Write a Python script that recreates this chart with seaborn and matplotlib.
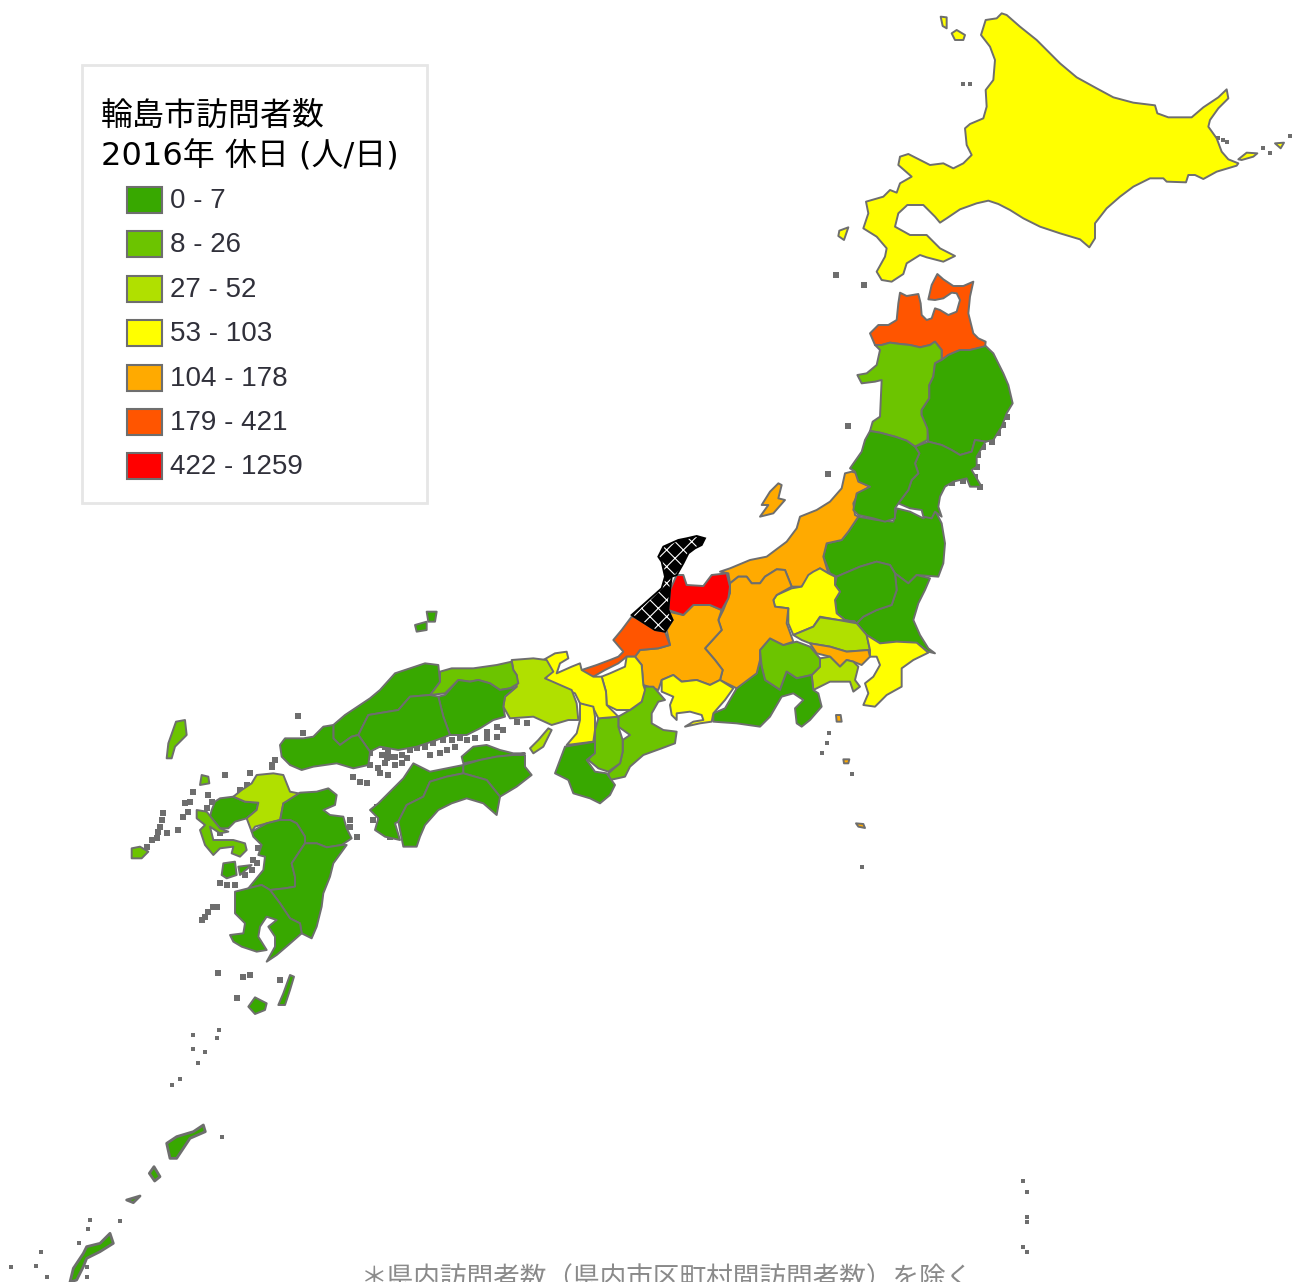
import matplotlib
matplotlib.use("Agg")
import matplotlib.pyplot as plt
from matplotlib.patches import Polygon, Rectangle
import seaborn as sns

# legend
title_lines = ["輪島市訪問者数", "2016年 休日 (人/日)"]
class_labels = ["0 - 7", "8 - 26", "27 - 52", "53 - 103", "104 - 178", "179 - 421", "422 - 1259"]
class_colors = ["#38a800", "#6cc400", "#b0e000", "#ffff00", "#ffaa00", "#ff5500", "#ff0000"]
footnote = "＊県内訪問者数（県内市区町村間訪問者数）を除く"

NORTH = (820, 0, 3, 3)
TOHOKU = (820, 270, 3, 3)
CHUBU = (530, 460, 3, 3)
WEST = (270, 640, 3, 3)
KYUSHU = (120, 760, 3, 3)
SOUTH = (0, 1020, 1.5, 3)

hokkaido = [(545,40),(560,45),(600,80),(650,120),(680,150),(720,190),(770,232),(830,265),(880,292),(940,308),(1005,316),(1012,340),(1045,352),(1115,352),(1150,322),(1195,292),(1220,268),(1225,295),(1195,325),(1170,360),(1165,380),(1190,415),(1205,455),(1225,478),(1255,490),(1250,497),(1190,515),(1150,537),(1125,525),(1105,525),(1098,547),(1040,545),(1030,535),(990,535),(940,560),(900,590),(860,625),(825,670),(825,715),(808,742),(780,718),(720,700),(660,680),(610,655),(570,630),(535,612),(505,602),(470,610),(420,628),(380,655),(360,668),(345,650),(310,615),(262,615),(235,640),(225,680),(270,705),(320,705),(360,745),(405,768),(370,785),(320,772),(300,765),(260,790),(250,822),(215,845),(185,840),(170,815),(195,770),(200,745),(170,710),(130,685),(145,640),(138,605),(190,590),(210,570),(230,578),(240,550),(275,530),(235,495),(240,470),(265,462),(330,495),(370,490),(400,505),(430,490),(455,465),(440,435),(435,385),(450,372),(490,355),(500,320),(497,270),(520,240),(525,180),(510,140),(483,105),(497,60),(530,55)]
rishiri = [(395,100),(410,90),(435,105),(430,120),(405,120)]
rebun = [(362,50),(380,52),(380,85),(368,78)]
okushiri = [(58,692),(85,682),(72,720),(55,708)]
habomai = [(1255,478),(1280,458),(1312,460),(1300,470),(1265,480)]
kunashiri = [(1365,430),(1392,428),(1382,445)]

aomori = [(240,68),(260,78),(295,72),(302,100),(305,135),(320,150),(335,145),(345,115),(360,120),(385,135),(410,125),(420,90),(410,70),(395,68),(370,85),(345,90),(325,88),(335,45),(352,12),(370,28),(400,48),(430,48),(460,35),(450,80),(445,130),(460,190),(475,205),(497,215),(495,232),(450,240),(420,240),(385,255),(365,270),(365,240),(345,215),(330,225),(300,232),(270,225),(240,222),(210,218),(185,225),(165,225),(150,190),(175,165),(205,165),(230,150),(235,100)]
akita = [(165,225),(185,225),(210,218),(240,222),(270,225),(300,232),(330,225),(345,215),(365,240),(365,268),(345,280),(340,320),(328,345),(328,385),(305,420),(305,435),(325,470),(322,510),(285,530),(260,512),(225,500),(180,488),(150,483),(158,455),(180,440),(185,330),(165,335),(125,340),(112,315),(140,310),(170,285),(180,240)]
iwate = [(365,270),(385,255),(420,240),(450,240),(497,228),(520,250),(535,280),(550,310),(565,345),(578,400),(560,430),(545,470),(520,510),(497,515),(465,510),(455,545),(420,555),(395,540),(365,525),(325,515),(322,475),(305,435),(305,420),(328,385),(328,345),(340,320),(345,280)]
miyagi = [(285,530),(325,515),(365,525),(395,540),(420,555),(455,545),(465,510),(497,515),(470,560),(470,590),(455,600),(485,650),(450,650),(440,625),(400,635),(375,650),(360,680),(355,710),(365,740),(345,725),(335,745),(310,740),(305,720),(270,715),(235,700),(265,660),(275,630),(295,610),(285,580),(298,550)]
yamagata = [(150,483),(180,488),(225,500),(260,512),(285,530),(298,550),(285,580),(295,610),(275,630),(265,660),(235,700),(225,715),(225,745),(195,755),(160,745),(115,735),(100,720),(110,670),(150,650),(115,635),(105,605),(90,595),(125,545),(135,510)]

niigata = [(965,35),(985,40),(990,65),(1020,80),(985,100),(970,130),(975,165),(985,170),(955,215),(935,240),(890,250),(880,290),(895,340),(870,325),(840,345),(815,380),(785,380),(765,330),(740,328),(705,350),(690,370),(665,370),(650,350),(625,350),(600,370),(595,340),(570,335),(600,325),(660,300),(710,290),(770,245),(800,205),(810,170),(860,150),(900,125),(935,85),(945,40)]
sado = [(745,70),(755,75),(745,115),(765,120),(730,160),(690,170),(715,135),(695,135),(720,95)]
fukushima = [(985,170),(1040,180),(1090,185),(1100,145),(1140,155),(1180,175),(1215,150),(1235,190),(1245,250),(1240,310),(1225,350),(1160,345),(1135,370),(1095,340),(1080,315),(1040,305),(990,320),(920,350),(900,340),(880,290),(890,250),(935,240),(955,215)]
tochigi = [(920,350),(990,320),(1040,305),(1080,315),(1095,340),(1100,390),(1085,435),(1040,450),(1000,470),(980,490),(945,480),(920,460),(915,420),(930,395),(915,375)]
ibaraki = [(1095,340),(1135,370),(1160,345),(1200,355),(1185,390),(1165,430),(1150,480),(1170,525),(1195,565),(1215,580),(1195,575),(1160,550),(1100,545),(1050,550),(1010,525),(980,490),(1000,470),(1040,450),(1085,435),(1100,390)]
gunma = [(850,335),(870,325),(895,340),(915,350),(915,375),(930,395),(915,420),(920,460),(945,480),(975,485),(925,480),(870,470),(850,500),(790,525),(775,490),(775,445),(735,440),(730,420),(740,405),(785,385),(815,380),(835,345)]
saitama = [(790,525),(850,500),(870,472),(925,480),(980,490),(1010,525),(1020,570),(950,575),(900,560),(840,550),(815,540)]
tokyo = [(840,550),(900,560),(950,575),(1015,570),(1020,590),(995,615),(970,605),(950,600),(930,620),(900,590),(860,580)]
chiba = [(1010,525),(1050,550),(1100,545),(1160,548),(1195,578),(1150,600),(1115,625),(1115,680),(1070,705),(1035,740),(1000,735),(1015,700),(1005,670),(1030,650),(1050,615),(1040,590),(1020,590),(1020,570)]
kanagawa = [(870,595),(900,590),(930,620),(950,600),(970,605),(985,620),(975,660),(990,680),(970,695),(960,665),(900,665),(850,690),(845,645),(870,620)]
yamanashi = [(690,570),(720,535),(760,555),(800,545),(840,560),(870,595),(870,620),(845,645),(800,655),(770,635),(750,690),(705,660),(695,620)]
shizuoka = [(550,785),(550,760),(585,745),(620,685),(650,660),(680,640),(690,600),(705,660),(750,690),(770,635),(800,655),(845,645),(850,690),(865,700),(875,740),(840,780),(815,800),(800,790),(795,745),(820,720),(790,700),(755,710),(720,770),(690,800),(620,790)]
nagano = [(625,350),(650,350),(665,370),(690,370),(705,350),(740,328),(765,330),(785,380),(740,405),(730,420),(735,440),(775,445),(770,490),(790,545),(760,555),(720,535),(690,570),(690,600),(680,640),(620,685),(570,660),(578,630),(555,600),(525,565),(575,510),(565,480),(580,450),(600,400),(600,370)]
toyama = [(440,345),(460,345),(470,375),(520,378),(545,345),(590,340),(600,380),(595,415),(575,450),(540,435),(490,435),(460,465),(415,450),(420,390)]
ishikawa = [(500,228),(525,235),(515,255),(495,265),(475,280),(460,310),(440,345),(425,350),(420,390),(415,450),(428,480),(405,515),(375,510),(320,475),(305,465),(350,425),(395,385),(405,350),(395,305),(385,290),(400,260),(445,240),(470,235)]
fukui = [(305,470),(320,475),(375,510),(405,515),(420,555),(385,565),(330,570),(315,590),(290,590),(265,610),(225,630),(190,650),(160,640),(155,630),(200,615),(240,600),(265,590),(280,575),(250,540),(275,510)]
gifu = [(415,455),(460,465),(490,435),(540,435),(575,450),(565,480),(575,510),(525,565),(555,600),(578,630),(570,660),(540,675),(500,660),(455,665),(430,645),(395,660),(385,690),(340,675),(335,615),(315,590),(330,570),(385,565),(420,555),(410,510),(428,480)]
aichi = [(395,660),(430,645),(455,665),(500,660),(540,675),(570,660),(610,685),(585,720),(550,760),(545,785),(510,790),(465,800),(490,785),(520,780),(515,765),(480,755),(440,760),(440,780),(425,765),(420,735),(430,710),(395,695)]
shiga = [(290,590),(315,590),(335,615),(340,675),(345,690),(335,725),(300,750),(260,750),(230,735),(228,695),(215,650),(240,640),(285,620)]
mie = [(345,680),(370,680),(405,720),(385,725),(365,760),(365,790),(400,810),(440,815),(435,850),(395,865),(340,885),(300,920),(285,950),(240,960),(235,940),(270,910),(278,875),(278,840),(300,825),(265,800),(265,770),(300,750),(335,725)]
nara = [(205,775),(265,770),(265,800),(278,840),(278,875),(270,910),(235,935),(205,925),(175,900),(195,870),(195,810)]
kyoto = [(40,600),(75,580),(110,575),(115,595),(90,610),(80,640),(125,620),(150,610),(155,630),(190,650),(215,650),(228,695),(230,735),(265,770),(205,775),(190,745),(150,730),(135,700),(90,680),(45,660),(60,630)]
osaka = [(150,730),(190,740),(195,770),(195,810),(190,845),(110,855),(140,820),(150,780)]
izu_a = [(918,765),(932,765),(935,785),(920,785)]
izu_b = [(940,898),(958,898),(955,910),(942,910)]
izu_c = [(978,1090),(1000,1092),(1005,1104),(985,1100)]

hyogo = [(725,60),(790,55),(830,60),(850,95),(825,115),(905,150),(920,190),(925,240),(895,240),(845,255),(790,230),(720,235),(700,200),(705,170),(740,140),(740,105),(730,90)]
awaji = [(835,265),(845,270),(820,320),(790,340),(780,325),(805,300)]
wakayama = [(885,320),(975,305),(975,340),(950,360),(975,395),(1010,400),(1035,435),(1020,465),(990,490),(960,475),(910,460),(895,420),(855,400),(870,360)]
tottori = [(510,95),(545,85),(610,85),(680,75),(725,65),(730,90),(740,105),(745,130),(720,145),(690,150),(660,130),(625,120),(600,125),(565,120),(525,160),(480,165),(510,125)]
okayama = [(525,165),(565,120),(600,125),(625,120),(660,130),(690,150),(720,145),(740,140),(705,170),(700,200),(705,230),(670,240),(630,265),(590,285),(540,285),(520,230),(505,170)]
shimane = [(375,100),(420,85),(465,70),(505,75),(510,125),(480,165),(420,170),(385,210),(295,225),(265,285),(245,290),(210,315),(190,295),(190,255),(225,225),(300,175),(330,150)]
hiroshima = [(295,225),(385,210),(420,170),(480,165),(505,170),(520,230),(540,285),(500,300),(440,320),(385,330),(330,320),(300,335),(265,285)]
yamaguchi = [(190,255),(190,295),(210,315),(245,290),(265,285),(300,335),(295,375),(250,385),(200,370),(130,380),(95,390),(60,375),(35,350),(30,315),(45,295),(100,295),(130,290),(160,260)]
kagawa = [(580,370),(575,350),(610,320),(650,315),(690,330),(730,340),(765,340),(730,345),(680,350),(630,360)]
tokushima = [(580,375),(630,360),(680,350),(730,345),(765,345),(765,380),(785,405),(740,440),(690,470),(650,420),(580,400)]
kochi = [(480,425),(530,410),(580,400),(650,420),(690,470),(680,525),(640,490),(590,475),(545,490),(505,510),(465,555),(450,590),(440,620),(400,620),(385,545),(410,495),(460,470)]
ehime = [(325,490),(375,440),(400,415),(430,370),(450,380),(480,395),(530,385),(580,375),(580,400),(530,410),(480,425),(460,470),(410,495),(385,545),(375,550),(390,600),(345,590),(315,570),(325,535),(300,510)]
oki_a = [(470,-85),(500,-85),(495,-55),(475,-55)]
oki_b = [(435,-45),(470,-55),(470,-30),(440,-25)]

fukuoka = [(340,110),(365,90),(395,70),(410,45),(460,40),(490,45),(500,70),(510,95),(535,100),(530,115),(490,130),(480,180),(440,190),(405,200),(395,215),(380,175),(410,150),(415,128),(375,125)]
saga = [(285,125),(300,115),(340,110),(375,125),(415,128),(410,150),(380,175),(345,185),(325,205),(300,205),(270,170),(275,150)]
nagasaki = [(230,150),(260,155),(300,205),(325,215),(300,220),(270,200),(280,240),(310,240),(340,240),(375,250),(380,270),(360,290),(335,280),(340,260),(300,265),(280,285),(255,255),(240,210),(255,195),(230,175)]
oita = [(540,98),(590,95),(625,85),(650,105),(645,135),(610,150),(630,165),(670,170),(680,205),(695,235),(665,255),(620,262),(590,250),(555,250),(555,230),(530,190),(510,180),(480,185),(490,130)]
kumamoto = [(395,215),(440,190),(480,180),(510,180),(530,190),(555,230),(555,250),(515,310),(525,350),(525,380),(495,385),(450,390),(425,375),(385,385),(430,330),(435,290),(415,285),(425,255),(400,230)]
miyazaki = [(555,250),(590,250),(620,262),(665,255),(680,255),(640,310),(630,350),(610,400),(605,440),(590,500),(575,535),(545,520),(540,490),(510,475),(480,430),(450,390),(495,385),(525,380),(525,350),(515,310)]
kagoshima = [(345,395),(385,385),(425,375),(450,390),(480,430),(510,475),(540,490),(545,520),(505,555),(470,585),(440,605),(465,560),(465,530),(445,500),(470,480),(440,470),(420,500),(415,530),(440,570),(410,575),(365,560),(340,545),(330,525),(370,520),(375,490),(345,460)]
amakusa_a = [(310,310),(345,305),(350,345),(320,355),(305,345)]
amakusa_b = [(355,320),(395,315),(360,345)]
goto = [(35,265),(60,260),(85,275),(65,295),(35,295)]
iki = [(245,45),(265,50),(268,70),(240,75)]
tsushima = [(168,-115),(195,-120),(200,-75),(165,-40),(155,-5),(140,-5),(145,-50)]
yakushima = [(405,712),(440,730),(435,750),(405,762),(385,740)]
tanegashima = [(510,645),(522,650),(510,690),(495,735),(475,735),(490,700)]

amami = [(305,315),(308,335),(285,355),(275,385),(265,415),(255,415),(250,370),(265,350),(290,335)]
tokunoshima = [(231,440),(240,470),(232,483),(224,460)]
okinoerabu = [(190,540),(210,528),(200,548)]
okinawa = [(165,640),(170,670),(150,695),(130,715),(125,740),(115,780),(105,786),(110,745),(125,700),(130,680),(150,670)]

# tiny islands and broken coast that only show up as grey specks
specks_north = [(430,252),(450,252),(1195,415),(1210,420),(1220,425),(1330,445),(1350,460),(1410,408),(45,826),(133,856)]
specks_tohoku = [(47,15),(133,45),(85,468),(25,612),(560,440),(550,465),(535,490),(515,515),(490,530),(475,555),(470,590),(465,620),(480,650),(430,632),(395,638)]
specks_chubu = [(893,42),(898,820),(890,850),(875,878),(965,943),(996,1222)]
specks_west = [(300,340),(310,320),(330,315),(345,320),(355,335),(360,350),(345,370),(325,385),(300,375),(335,345),(350,355),(375,350),(395,345),(420,330),(440,325),(465,320),(490,310),(520,300),(545,300),(570,295),(590,300),(615,295),(650,295),(680,290),(700,270),(650,275),(680,260),(740,245),(770,250),(480,345),(510,340),(530,330),(555,320),(375,375),(395,370),(410,355),(250,410),(270,425),(290,430),(330,400),(355,405),(240,540),(240,560),(260,590),(320,500),(330,530),(340,560),(310,540),(125,300),(100,280),(85,228),(15,360),(5,380),(360,590),(370,570)]
specks_kyushu = [(130,160),(125,180),(115,215),(95,240),(80,260),(140,220),(110,235),(120,200),(195,130),(210,125),(190,170),(205,155),(265,105),(275,125),(260,145),(300,220),(390,40),(380,75),(360,90),(315,45),(455,15),(400,300),(410,310),(395,330),(375,345),(300,370),(320,375),(345,375),(295,640),(370,650),(390,645),(480,660),(350,715),(220,95),(415,265),(175,210),(245,480),(255,470),(265,455),(280,442),(292,440)]
specks_south = [(328,30),(290,45),(325,55),(308,95),(290,88),(297,130),(258,195),(270,178),(333,352),(180,603),(135,600),(132,628),(118,668),(62,695),(54,737),(17,740),(70,770),(130,740),(130,770),(1534,482),(1540,515),(1540,590),(1540,605),(1535,680),(1540,695)]

# index into class_colors for every outline
north_shapes = [(hokkaido, 3), (rishiri, 3), (rebun, 3), (okushiri, 3), (habomai, 3), (kunashiri, 3)]
tohoku_shapes = [(aomori, 5), (akita, 1), (iwate, 0), (miyagi, 0), (yamagata, 0)]
chubu_shapes = [(fukushima, 0), (niigata, 4), (sado, 4), (ibaraki, 0), (tochigi, 0), (gunma, 3), (saitama, 2),
                (tokyo, 4), (chiba, 3), (kanagawa, 2), (yamanashi, 1), (shizuoka, 0), (nagano, 4), (gifu, 4),
                (toyama, 6), (fukui, 5), (aichi, 3), (mie, 1), (nara, 1), (shiga, 3), (kyoto, 3), (osaka, 3),
                (izu_a, 4), (izu_b, 4), (izu_c, 4)]
west_shapes = [(hyogo, 2), (awaji, 2), (wakayama, 0), (tottori, 1), (okayama, 0), (shimane, 0), (hiroshima, 0),
               (yamaguchi, 0), (ehime, 0), (kagawa, 0), (tokushima, 0), (kochi, 0), (oki_a, 0), (oki_b, 0)]
kyushu_shapes = [(saga, 0), (nagasaki, 1), (fukuoka, 2), (oita, 0), (kumamoto, 0), (miyazaki, 0), (kagoshima, 0),
                 (amakusa_a, 0), (amakusa_b, 0), (goto, 1), (iki, 1), (tsushima, 1), (yakushima, 0),
                 (tanegashima, 0)]
south_shapes = [(amami, 0), (tokunoshima, 0), (okinoerabu, 0), (okinawa, 0)]

EDGE = "#6e6e6e"


def place(points, crop):
    ox, oy, sx, sy = crop
    return [(ox + x / sx, oy + y / sy) for x, y in points]


def draw_shapes(ax, shapes, crop, width=1.4):
    for points, cls in shapes:
        ax.add_patch(Polygon(place(points, crop), closed=True, facecolor=class_colors[cls],
                             edgecolor=EDGE, linewidth=width, joinstyle="round", zorder=2))


def draw_specks(ax, points, crop, size=14):
    xy = place(points, crop)
    sns.scatterplot(x=[p[0] for p in xy], y=[p[1] for p in xy], marker="s", s=size, color=EDGE,
                    linewidth=0, legend=False, ax=ax, zorder=1)


sns.set_theme(style="white")
plt.rcParams["font.family"] = ["DejaVu Sans", "Noto Sans CJK JP"]
plt.rcParams["hatch.linewidth"] = 0.8

fig = plt.figure(figsize=(12.93, 12.82), dpi=100)
ax = fig.add_axes([0, 0, 1, 1])

draw_specks(ax, specks_north, NORTH, size=8)
draw_specks(ax, specks_tohoku, TOHOKU, size=16)
draw_specks(ax, specks_chubu, CHUBU, size=10)
draw_specks(ax, specks_west, WEST, size=20)
draw_specks(ax, specks_kyushu, KYUSHU, size=20)
draw_specks(ax, specks_south, SOUTH, size=8)

draw_shapes(ax, north_shapes, NORTH)
draw_shapes(ax, chubu_shapes, CHUBU)
draw_shapes(ax, tohoku_shapes, TOHOKU)
draw_shapes(ax, west_shapes, WEST)
draw_shapes(ax, kyushu_shapes, KYUSHU)
draw_shapes(ax, south_shapes, SOUTH, width=2)

# Wajima's own prefecture: black with a white cross hatch
ax.add_patch(Polygon(place(ishikawa, CHUBU), closed=True, facecolor="black", edgecolor="white",
                     hatch="xx", linewidth=0, zorder=3))
ax.add_patch(Polygon(place(ishikawa, CHUBU), closed=True, fill=False, edgecolor="black",
                     linewidth=1.4, zorder=3))

# legend box
ax.add_patch(Rectangle((82, 65), 345, 438, facecolor="white", edgecolor="#e6e6e6", linewidth=2, zorder=4))
ax.text(101, 116, title_lines[0], fontsize=23, color="black", va="center", ha="left",
        family=["Noto Sans CJK JP", "DejaVu Sans"], zorder=5)
ax.text(101, 157, title_lines[1], fontsize=23, color="black", va="center", ha="left", zorder=5)
for i, (label, color) in enumerate(zip(class_labels, class_colors)):
    top = 187 + i * 44.4
    ax.add_patch(Rectangle((126.5, top), 35, 26, facecolor=color, edgecolor=EDGE, linewidth=1.5, zorder=5))
    ax.text(170, top + 14, label, fontsize=20, color="#30303a", va="center", ha="left",
            family=["Liberation Sans"], zorder=5)

ax.text(667, 1279, footnote, fontsize=19.2, color="#8a8a8a", va="center", ha="center",
        family=["Noto Sans CJK JP", "DejaVu Sans"], zorder=5)

ax.set_xlim(0, 1293)
ax.set_ylim(1282, 0)
ax.axis("off")
fig.savefig("out.png", dpi=100)
